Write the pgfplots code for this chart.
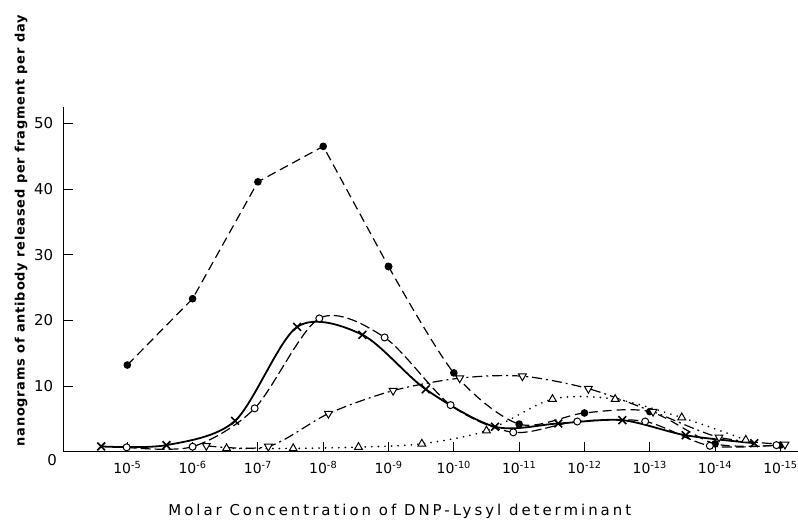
\documentclass[border=0pt]{standalone}
\usepackage{pgfplots}
\pgfplotsset{compat=1.18}
\usepackage{fontspec}
\setmainfont{DejaVu Sans}

% x axis is -log10 of the molar concentration
\begin{document}
\begin{tikzpicture}
\begin{axis}[
  scale only axis,
  width=734.7bp, height=345bp,
  xmin=4.02, xmax=15.27,
  ymin=0, ymax=52.54,
  axis lines=left,
  axis line style={-, line width=1.2bp},
  tick align=inside,
  major tick length=10bp,
  tick style={line width=1bp, black},
  xtick={5,6,...,15},
  xticklabels={10\textsuperscript{-5},10\textsuperscript{-6},10\textsuperscript{-7},10\textsuperscript{-8},10\textsuperscript{-9},10\textsuperscript{-10},10\textsuperscript{-11},10\textsuperscript{-12},10\textsuperscript{-13},10\textsuperscript{-14},10\textsuperscript{-15}},
  ytick={10,20,...,50},
  /pgf/number format/assume math mode=true,
  xticklabel style={font=\fontsize{14}{16}\selectfont, inner sep=0pt, yshift=-9bp},
  yticklabel style={font=\fontsize{15}{17}\selectfont, inner sep=0pt, xshift=-10bp},
  xlabel={Molar Concentration of DNP-Lysyl determinant},
  xlabel style={at={(axis description cs:0.458,0)}, anchor=center, yshift=-59.3bp,
    font=\fontsize{15}{17}\selectfont\addfontfeature{LetterSpace=20}},
  ylabel={nanograms of antibody released per fragment per day},
  ylabel style={at={(axis description cs:0,0.64)}, anchor=center, yshift=42.3bp,
    font=\fontsize{13}{15}\selectfont\bfseries\addfontfeature{LetterSpace=6}},
  clip=false,
]
\coordinate (O) at (rel axis cs:0,0);

% filled circles, long dashes
\addplot [black, line width=1.2bp, dash pattern=on 9bp off 5bp, sharp plot,
  mark=*, mark size=3.2bp, mark options={solid}]
coordinates {(5.0,13.2) (6.0,23.3) (7.0,41.1) (8.0,46.5) (9.0,28.2)};
\addplot [black, line width=1.2bp, dash pattern=on 9bp off 5bp, smooth, tension=0.5,
  mark=*, mark size=3.2bp, mark options={solid}]
coordinates {(9.0,28.2) (10.0,12.0) (11.0,4.2) (12.0,5.9) (13.0,6.1) (14.0,1.2) (15.0,1.0)};

% crosses, solid
\addplot [black, line width=1.8bp, smooth, tension=0.5,
  mark=x, mark size=5.5bp, mark options={solid, line width=1.6bp}]
coordinates {(4.6,0.8) (5.6,1.0) (6.65,4.7) (7.6,19.0) (8.6,17.8) (9.57,9.5)
  (10.63,3.8) (11.6,4.3) (12.58,4.8) (13.55,2.5) (14.6,1.3)};

% open circles, dashed
\addplot [black, line width=1.2bp, dash pattern=on 10bp off 4bp, smooth, tension=0.5,
  mark=*, mark size=3.5bp, mark options={solid, fill=white, line width=1bp}]
coordinates {(4.99,0.67) (6.0,0.76) (6.95,6.6) (7.94,20.3) (8.94,17.4) (9.95,7.1)
  (10.91,2.95) (11.89,4.6) (12.93,4.6) (13.92,0.9) (14.94,1.0)};

% down triangles, dash-dot
\addplot [black, line width=1.2bp, dash pattern=on 10bp off 4bp on 2bp off 4bp, smooth, tension=0.5,
  mark=triangle*, mark size=4.5bp, mark options={solid, fill=white, rotate=180, line width=1bp}]
coordinates {(6.21,0.9) (7.16,0.8) (8.08,5.8) (9.07,9.3) (10.09,11.2) (11.05,11.5)
  (12.06,9.6) (13.05,6.1) (14.06,2.2) (15.07,1.1)};

% up triangles, dotted
\addplot [black, line width=1.8bp, line cap=round, dash pattern=on 0.1bp off 6.5bp, smooth, tension=0.5,
  mark=triangle*, mark size=4.5bp, mark options={solid, fill=white, line width=1bp}]
coordinates {(6.52,0.5) (7.54,0.5) (8.54,0.7) (9.51,1.2) (10.5,3.2) (11.51,8.0)
  (12.47,8.0) (13.49,5.2) (14.47,1.8)};

\node[anchor=east, inner sep=0pt, font=\fontsize{15}{17}\selectfont]
  at (axis cs:4.02,0) [xshift=-6.3bp, yshift=-8.3bp] {0};
\end{axis}
\pgfresetboundingbox
\path (O) ++(-63.3bp,-73.3bp) rectangle ++(798bp,525bp);
\end{tikzpicture}
\end{document}
